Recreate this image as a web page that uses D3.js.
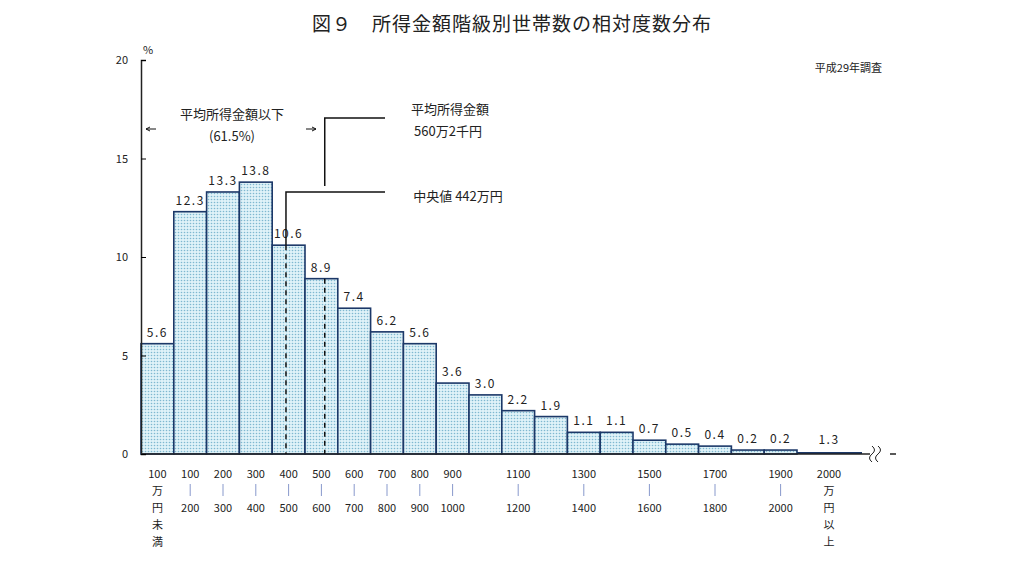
<!DOCTYPE html><html><head><meta charset="utf-8">
<script src="https://cdn.jsdelivr.net/npm/d3@7"></script>
<style>body{margin:0;background:#fff}text{font-family:"Noto Sans CJK JP","Liberation Serif",serif;fill:#222}</style></head>
<body><svg id="c" width="1024" height="578"></svg>
<script>
const values=[5.6,12.3,13.3,13.8,10.6,8.9,7.4,6.2,5.6,3.6,3.0,2.2,1.9,1.1,1.1,0.7,0.5,0.4,0.2,0.2];
const topLabels=["100","100","200","300","400","500","600","700","800","900","","1100","","1300","","1500","","1700","","1900"];
const botLabels=["","200","300","400","500","600","700","800","900","1000","","1200","","1400","","1600","","1800","","2000"];
const yTicks=[0,5,10,15,20];
const over2000=1.3, meanVal=560.2, medianVal=442;
const svg=d3.select("#c");
const x=d3.scaleLinear().domain([0,20]).range([141,797]);
const y=d3.scaleLinear().domain([0,20]).range([454,60]);
const defs=svg.append("defs");
const p=defs.append("pattern").attr("id","dots").attr("width",3).attr("height",3).attr("patternUnits","userSpaceOnUse");
p.append("rect").attr("width",3).attr("height",3).attr("fill","#dff2f8");
p.append("circle").attr("cx",1.5).attr("cy",1.5).attr("r",0.8).attr("fill","#7fb8d0");
svg.append("text").attr("x",512).attr("y",31).attr("text-anchor","middle").attr("font-size",19).attr("letter-spacing",1).text("図９　所得金額階級別世帯数の相対度数分布");
svg.append("text").attr("x",882).attr("y",72).attr("text-anchor","end").attr("font-size",11).text("平成29年調査");
// bars
svg.selectAll(".b").data(values).join("rect").attr("x",(d,i)=>x(i)).attr("width",x(1)-x(0)).attr("y",d=>y(d)).attr("height",d=>y(0)-y(d)).attr("fill","url(#dots)").attr("stroke","#1c3868").attr("stroke-width",1.6);
svg.selectAll(".v").data(values).join("text").attr("x",(d,i)=>x(i+0.5)).attr("y",d=>y(d)-7).attr("text-anchor","middle").attr("font-size",12).attr("letter-spacing",1.5).text(d=>d.toFixed(1));
// over 2000 flat
svg.append("rect").attr("x",x(20)).attr("y",y(0)-2).attr("width",65).attr("height",2).attr("fill","#1c3868");
svg.append("text").attr("x",x(20)+32).attr("y",y(0)-10).attr("text-anchor","middle").attr("font-size",12).attr("letter-spacing",1.5).text(over2000.toFixed(1));
// axes
svg.append("line").attr("x1",141).attr("x2",870).attr("y1",454).attr("y2",454).attr("stroke","#222").attr("stroke-width",1.5);
svg.append("line").attr("x1",890).attr("x2",896).attr("y1",454).attr("y2",454).attr("stroke","#222").attr("stroke-width",1.5);
svg.append("path").attr("d","M872,446 q5,4 0,8 q-5,4 0,8 M878,446 q5,4 0,8 q-5,4 0,8").attr("fill","none").attr("stroke","#222");
const ya=svg.append("g").attr("transform","translate(141,0)").call(d3.axisRight(y).tickValues(yTicks).tickSize(5).tickFormat(""));
ya.select(".domain").attr("stroke","#222").attr("stroke-width",1.5);
svg.selectAll(".yt").data(yTicks).join("text").attr("x",128).attr("y",d=>y(d)+4).attr("text-anchor","end").attr("font-size",11).text(d=>d);
svg.append("text").attr("x",143).attr("y",54).attr("font-size",11).text("%");
// x labels
const lab=svg.append("g").attr("font-size",11);
topLabels.forEach((t,i)=>{ if(!t) return; const cx=x(i+0.5);
  lab.append("text").attr("x",cx).attr("y",478).attr("text-anchor","middle").attr("font-size",11).text(t);
  if(i===0){["万","円","未","満"].forEach((c,k)=>lab.append("text").attr("x",cx).attr("y",495+k*17).attr("text-anchor","middle").attr("font-size",11).text(c));}
  else{lab.append("line").attr("x1",cx).attr("x2",cx).attr("y1",484).attr("y2",496).attr("stroke","#8899cc");
    lab.append("text").attr("x",cx).attr("y",512).attr("text-anchor","middle").attr("font-size",11).text(botLabels[i]);}
});
const cx2=x(20)+32;
lab.append("text").attr("x",cx2).attr("y",478).attr("text-anchor","middle").attr("font-size",11).text("2000");
["万","円","以","上"].forEach((c,k)=>lab.append("text").attr("x",cx2).attr("y",495+k*17).attr("text-anchor","middle").attr("font-size",11).text(c));
// mean / median
const inc=v=>v<100?x(v/100):x(v/100);
const mx=inc(meanVal), dx=inc(medianVal);
svg.append("path").attr("d",`M${mx},186 V118 H385`).attr("fill","none").attr("stroke","#111").attr("stroke-width",1.5);
svg.append("line").attr("x1",mx).attr("x2",mx).attr("y1",y(values[5])).attr("y2",454).attr("stroke","#111").attr("stroke-width",1.5).attr("stroke-dasharray","5,4");
svg.append("path").attr("d",`M${dx},${y(values[4])} V192 H385`).attr("fill","none").attr("stroke","#111").attr("stroke-width",1.5);
svg.append("line").attr("x1",dx).attr("x2",dx).attr("y1",y(values[4])).attr("y2",454).attr("stroke","#111").attr("stroke-width",1.5).attr("stroke-dasharray","5,4");
svg.append("text").attr("x",450).attr("y",114).attr("text-anchor","middle").attr("font-size",13).text("平均所得金額");
svg.append("text").attr("x",448).attr("y",136).attr("text-anchor","middle").attr("font-size",13).text("560万2千円");
svg.append("text").attr("x",458).attr("y",201).attr("text-anchor","middle").attr("font-size",13).text("中央値  442万円");
svg.append("text").attr("x",232).attr("y",119).attr("text-anchor","middle").attr("font-size",13).text("平均所得金額以下");
svg.append("text").attr("x",232).attr("y",141).attr("text-anchor","middle").attr("font-size",13).text("(61.5%)");
svg.append("path").attr("d","M146,129 h10 M146,129 l4,-2 M146,129 l4,2 M306,129 h10 M316,129 l-4,-2 M316,129 l-4,2").attr("stroke","#111").attr("fill","none");
</script></body></html>
